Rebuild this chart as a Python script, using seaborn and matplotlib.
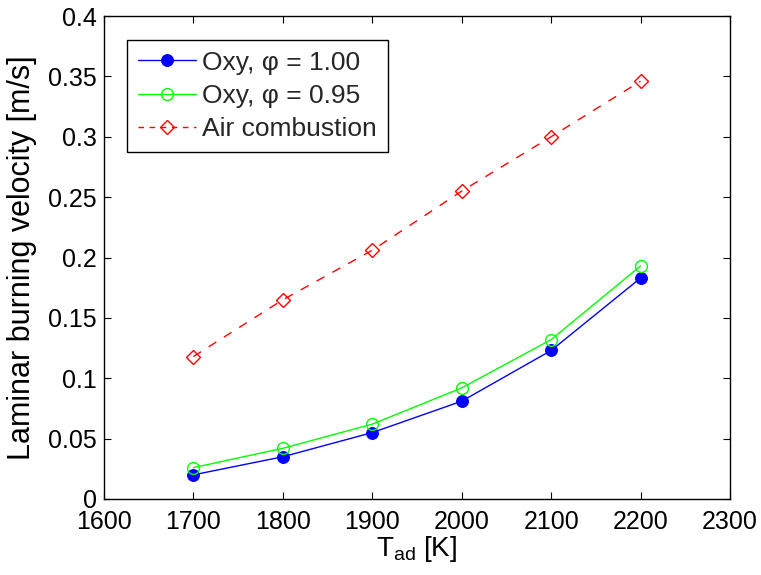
import matplotlib
matplotlib.use("Agg")
import matplotlib.pyplot as plt
import seaborn as sns
import pandas as pd

temps = [1700, 1800, 1900, 2000, 2100, 2200]
oxy_100 = [0.020, 0.035, 0.055, 0.081, 0.123, 0.183]
oxy_095 = [0.026, 0.042, 0.062, 0.092, 0.132, 0.193]
air = [0.118, 0.165, 0.206, 0.255, 0.300, 0.346]
labels = ["Oxy, φ = 1.00", "Oxy, φ = 0.95", "Air combustion"]
xticks = [1600, 1700, 1800, 1900, 2000, 2100, 2200, 2300]
yticks = [0, 0.05, 0.1, 0.15, 0.2, 0.25, 0.3, 0.35, 0.4]
yticklabels = ["0", "0.05", "0.1", "0.15", "0.2", "0.25", "0.3", "0.35", "0.4"]

sns.set_theme(style="white")
plt.rcParams['font.family'] = ['Liberation Sans', 'DejaVu Sans']
plt.rcParams['mathtext.fontset'] = 'custom'
plt.rcParams['mathtext.rm'] = 'Liberation Sans'
plt.rcParams['mathtext.it'] = 'Liberation Sans'

W, H = 761, 575
fig = plt.figure(figsize=(W / 100, H / 100), dpi=100)
ax = fig.add_axes([104 / W, (H - 499) / H, (730 - 104) / W, (499 - 16) / H])

df1 = pd.DataFrame({"T": temps, "v": oxy_100})
df2 = pd.DataFrame({"T": temps, "v": oxy_095})
df3 = pd.DataFrame({"T": temps, "v": air})

sns.lineplot(data=df1, x="T", y="v", ax=ax, color="#0000ff", lw=1.0,
             marker="o", markersize=8.5, markerfacecolor="#0000ff",
             markeredgecolor="#0000ff", label=labels[0])
sns.lineplot(data=df2, x="T", y="v", ax=ax, color="#00ff00", lw=1.0,
             marker="o", markersize=8.5, markerfacecolor="none",
             markeredgecolor="#00ff00", markeredgewidth=1.0, label=labels[1])
sns.lineplot(data=df3, x="T", y="v", ax=ax, color="#ff0000", lw=1.0,
             marker="D", markersize=7.5, markerfacecolor="none",
             markeredgecolor="#ff0000", markeredgewidth=1.0,
             label=labels[2])
ax.lines[-1].set_dashes([6.5, 6.5])

ax.set_xlim(1600, 2300)
ax.set_ylim(0, 0.4)
ax.set_xticks(xticks)
ax.set_yticks(yticks)
ax.set_yticklabels(yticklabels)
ax.tick_params(direction="in", length=5, width=0.8, labelsize=18, colors="black",
               top=True, right=True, bottom=True, left=True, pad=5)
ax.tick_params(axis="x", pad=8)
for s in ax.spines.values():
    s.set_color("black")
    s.set_linewidth(1.0)
ax.set_xlabel("T$_{\\mathregular{ad}}$ [K]", fontsize=20, color="black", labelpad=0)
ax.set_ylabel("Laminar burning velocity [m/s]", fontsize=22, color="black", labelpad=8)

leg = ax.legend(loc="upper left", bbox_to_anchor=(0.037, 0.95), fontsize=19,
                frameon=True, fancybox=False, edgecolor="black", framealpha=1,
                handlelength=2.2, handletextpad=0.25, borderpad=0.4,
                labelspacing=0.35, borderaxespad=0)
leg.get_frame().set_linewidth(1.0)
leg.get_lines()[2].set_dashes([4, 4])

fig.savefig("out.png", dpi=100)
